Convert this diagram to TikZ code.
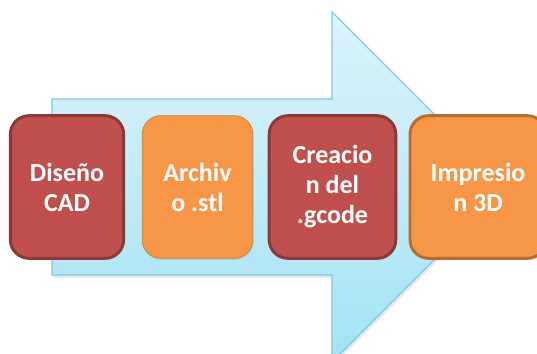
\documentclass[tikz,border=0pt]{standalone}
\usepackage{fontspec}
\setmainfont{Carlito}
\usetikzlibrary{shadows}

\definecolor{boxred}{HTML}{C0504D}
\definecolor{boxredline}{HTML}{8C3836}
\definecolor{boxorange}{HTML}{F79646}
\definecolor{boxorangeline}{HTML}{B66D31}
\definecolor{arrowtop}{HTML}{DDF4FC}
\definecolor{arrowbot}{HTML}{A3E2F6}
\definecolor{arrowline}{HTML}{7FCBE3}

\begin{document}
\begin{tikzpicture}[x=0.75pt, y=-0.75pt,
    stepbox/.style={rounded corners=14pt, inner sep=0pt, minimum height=107pt,
      align=center, text=white, font=\bfseries\fontsize{19.5}{22.5}\selectfont,
      drop shadow={opacity=0.2, shadow xshift=0.8pt, shadow yshift=-1.2pt}},
    redbox/.style={stepbox, fill=boxred, draw=boxredline, line width=2.2pt},
    orangebox/.style={stepbox, fill=boxorange}]
    \useasboundingbox (0,0) rectangle (537,354);

    % Arrow behind the steps
    \draw[arrowline, line width=0.8pt, top color=arrowtop, bottom color=arrowbot,
      drop shadow={opacity=0.2, shadow xshift=1pt, shadow yshift=-2pt}]
      (52,99) -- (332,99) -- (332,12) -- (507,187) -- (332,362)
      -- (332,275) -- (52,275) -- cycle;

    % Steps
    \node[redbox, minimum width=85pt] (cad) at (67,187) {Diseño\\CAD};
    \node[orangebox, draw=boxorange!85!black, line width=0.6pt,
      minimum width=83pt] (stl) at (197.5,187) {Archiv\\o .stl};
    \node[redbox, minimum width=95pt] (gcode) at (332.5,187) {Creacio\\n del\\.gcode};
    \node[orangebox, draw=boxorangeline, line width=2.2pt,
      minimum width=102pt] (print) at (478,187) {Impresio\\n 3D};
\end{tikzpicture}
\end{document}
